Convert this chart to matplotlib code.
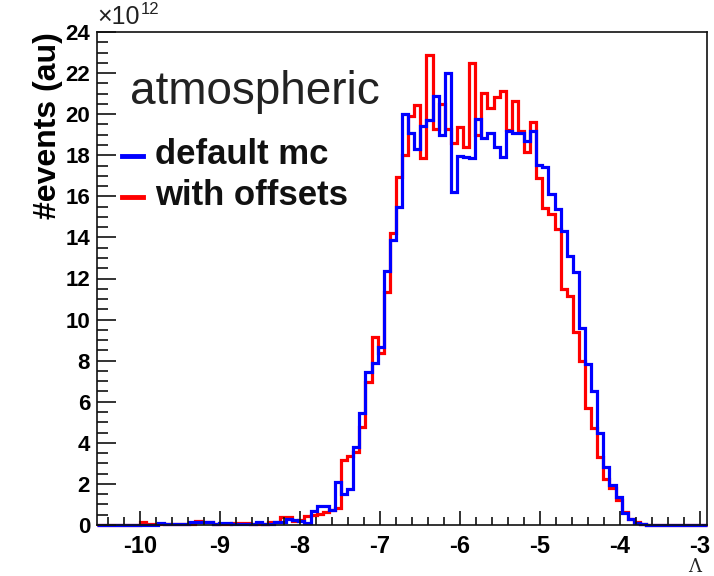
import numpy as np
import matplotlib
matplotlib.use("Agg")
import matplotlib.pyplot as plt
from matplotlib.ticker import MultipleLocator

plt.rcParams["font.family"] = ["Liberation Sans", "DejaVu Sans"]

# 100 bins over the frame range of Lambda
x_lo, x_hi = -10.54, -2.91
n_bins = 100

# bin contents in units of 1e12, bins 0..99
default_mc = [0.0] * 10 + [
    0.08, 0.03, 0.03, 0.03, 0.03, 0.13, 0.13, 0.13, 0.13, 0.05,
    0.08, 0.08, 0.05, 0.05, 0.05, 0.05, 0.13, 0.05, 0.05, 0.13,
    0.13, 0.3, 0.24, 0.2, 0.08, 0.68, 0.94, 0.94, 0.73, 2.09,
    1.5, 1.75, 3.81, 5.44, 7.46, 7.9, 8.65, 12.38, 13.88, 15.5,
    20.0, 19.07, 18.3, 19.4, 19.7, 20.9, 18.99, 22.0, 16.2, 17.96,
    17.9, 17.85, 19.75, 18.83, 19.1, 18.42, 17.9, 19.2, 19.07, 19.07,
    18.7, 19.2, 17.53, 17.41, 16.1, 15.4, 14.33, 13.1, 12.33, 9.57,
    7.84, 6.54, 4.46, 2.84, 1.95, 1.38, 0.6, 0.3, 0.12, 0.05,
] + [0.0] * 10

with_offsets = [0.0] * 7 + [
    0.13, 0.03, 0.03, 0.03, 0.03, 0.03, 0.03, 0.03, 0.03, 0.2,
    0.13, 0.13, 0.05, 0.05, 0.05, 0.08, 0.08, 0.08, 0.05, 0.05,
    0.05, 0.13, 0.13, 0.4, 0.4, 0.2, 0.24, 0.45, 0.5, 0.55,
    0.65, 0.73, 0.85, 3.16, 3.36, 3.57, 4.79, 6.98, 9.17, 8.39,
    11.36, 14.2, 16.96, 18.0, 19.9, 20.45, 17.85, 22.9, 19.3, 20.5,
    19.3, 18.58, 19.36, 18.39, 22.48, 18.99, 21.02, 20.29, 20.82, 21.15,
    19.23, 20.64, 19.2, 18.14, 19.64, 16.88, 15.42, 15.14, 14.42, 11.47,
    11.16, 9.38, 8.0, 5.68, 4.71, 3.3, 2.22, 1.79, 1.2, 0.65,
    0.3, 0.13, 0.05,
] + [0.0] * 10

edges = np.linspace(x_lo, x_hi, n_bins + 1)

fig = plt.figure(figsize=(7.14, 5.76), dpi=100)
ax = fig.add_axes([97 / 714, 51 / 576, 610 / 714, 493 / 576])

ax.stairs(with_offsets, edges, color="#ff0000", linewidth=2.3, clip_on=False)
ax.stairs(default_mc, edges, color="#0000ff", linewidth=2.3, clip_on=False)

ax.set_xlim(x_lo, x_hi)
ax.set_ylim(0, 24)

ax.xaxis.set_major_locator(MultipleLocator(1))
ax.xaxis.set_minor_locator(MultipleLocator(0.2))
ax.yaxis.set_major_locator(MultipleLocator(2))
ax.yaxis.set_minor_locator(MultipleLocator(0.5))
ax.tick_params(which="both", direction="in", top=False, right=False, width=1.2, color="#111111")
ax.tick_params(axis="x", which="major", length=10, pad=7)
ax.tick_params(axis="x", which="minor", length=6)
ax.tick_params(axis="y", which="major", length=14, pad=5)
ax.tick_params(axis="y", which="minor", length=8)

ax.set_xticks(range(-10, -2))
ax.set_xticklabels([f"-{abs(v)}" for v in range(-10, -2)], fontsize=17, fontweight="bold")
ax.set_yticks(range(0, 25, 2))
ax.set_yticklabels([str(v) for v in range(0, 25, 2)], fontsize=16, fontweight="bold")
for s in ax.spines.values():
    s.set_linewidth(1.2)
    s.set_color("#111111")

ax.set_ylabel("#events (au)", fontsize=23, fontweight="bold", loc="top", labelpad=2)
fig.text(701 / 714, 1 - 567 / 576, "\u039b", fontsize=13, family="DejaVu Serif",
         ha="right", va="center", color="#222222")

# exponent of the y axis
fig.text(97 / 714, 1 - 17 / 576, "\u00d710", fontsize=18, ha="left", va="center", color="#222222")
fig.text(141 / 714, 1 - 10 / 576, "12", fontsize=12, ha="left", va="center", color="#222222")

ax.text(130 / 714, 1 - 92 / 576, "atmospheric", transform=fig.transFigure,
        fontsize=33, color="#222222", ha="left", va="center")
ax.text(155 / 714, 1 - 155 / 576, "default mc", transform=fig.transFigure,
        fontsize=25, fontweight="bold", color="#111111", ha="left", va="center")
ax.text(155 / 714, 1 - 195 / 576, "with offsets", transform=fig.transFigure,
        fontsize=25, fontweight="bold", color="#111111", ha="left", va="center")
fig.lines.append(plt.Line2D([122 / 714, 143 / 714], [1 - 156 / 576] * 2,
                            transform=fig.transFigure, color="#0000ff", linewidth=3.5))
fig.lines.append(plt.Line2D([122 / 714, 143 / 714], [1 - 197 / 576] * 2,
                            transform=fig.transFigure, color="#ff0000", linewidth=3.5))

fig.savefig("out.png", dpi=100)
